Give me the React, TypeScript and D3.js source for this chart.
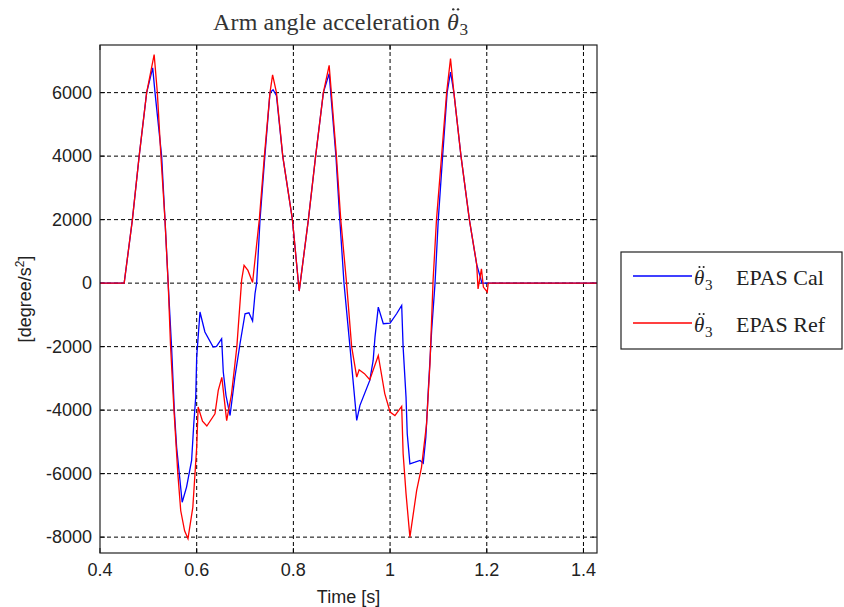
import React from "react";
import * as d3 from "d3";

const refTime = [0.4, 0.45, 0.467, 0.481, 0.4965, 0.512, 0.5186, 0.526, 0.5344, 0.541, 0.546, 0.553, 0.561, 0.567, 0.575, 0.582, 0.592, 0.6, 0.603, 0.612, 0.621, 0.6378, 0.6446, 0.652, 0.662, 0.672, 0.683, 0.693, 0.698, 0.706, 0.7156, 0.7295, 0.74, 0.7516, 0.757, 0.765, 0.778, 0.798, 0.812, 0.831, 0.846, 0.862, 0.874, 0.889, 0.898, 0.91, 0.9205, 0.931, 0.936, 0.947, 0.958, 0.9756, 0.989, 1.0, 1.01, 1.024, 1.027, 1.033, 1.041, 1.055, 1.065, 1.0755, 1.0825, 1.089, 1.096, 1.1065, 1.117, 1.125, 1.132, 1.1467, 1.164, 1.179, 1.182, 1.189, 1.193, 1.201, 1.203, 1.428];
const refValue = [0, 0, 2000, 4000, 6000, 7200, 6000, 4000, 2000, 0, -2000, -4000, -6000, -7170, -7800, -8050, -7060, -5170, -3900, -4350, -4500, -4115, -3380, -2970, -4330, -3500, -2015, 100, 560, 400, 20, 2000, 4000, 6000, 6560, 6000, 4000, 2000, -250, 2000, 4000, 6000, 6860, 4000, 2000, 0, -2000, -2960, -2730, -2850, -3040, -2280, -3480, -4060, -4170, -3880, -5370, -6630, -8000, -6530, -5800, -4430, -2540, 100, 2000, 4000, 6000, 7070, 6000, 4000, 2000, 610, -180, 450, -125, -280, 0, 0];

const calTime = [0.4, 0.45, 0.467, 0.481, 0.4965, 0.509, 0.5138, 0.5275, 0.5344, 0.541, 0.548, 0.5537, 0.5585, 0.57, 0.579, 0.5895, 0.594, 0.598, 0.6, 0.6068, 0.617, 0.634, 0.641, 0.6516, 0.655, 0.6606, 0.669, 0.679, 0.6896, 0.7, 0.708, 0.7156, 0.7206, 0.724, 0.731, 0.741, 0.7516, 0.758, 0.765, 0.778, 0.798, 0.812, 0.831, 0.846, 0.862, 0.874, 0.888, 0.896, 0.9047, 0.917, 0.931, 0.9377, 0.958, 0.965, 0.9688, 0.9756, 0.986, 1.0, 1.0135, 1.024, 1.027, 1.033, 1.0355, 1.041, 1.0515, 1.062, 1.0686, 1.074, 1.079, 1.086, 1.093, 1.0997, 1.1087, 1.118, 1.125, 1.132, 1.1467, 1.164, 1.179, 1.19, 1.428];
const calValue = [0, 0, 2000, 4000, 6000, 6780, 6000, 4000, 2000, 0, -2000, -4000, -5170, -6900, -6425, -5585, -4430, -3590, -2330, -910, -1540, -2015, -1995, -1750, -2800, -3540, -4170, -2960, -1910, -965, -935, -1195, -335, 0, 2000, 4000, 6000, 6090, 5900, 4000, 2000, -250, 2000, 4000, 6000, 6600, 4000, 2000, 0, -2000, -4325, -3850, -3065, -2435, -1700, -755, -1280, -1260, -965, -700, -2015, -3590, -4745, -5690, -5640, -5585, -5670, -4850, -3380, -1490, 0, 2000, 4000, 6000, 6650, 6000, 4000, 2000, 600, 0, 0];

const xTicks = [0.4, 0.6, 0.8, 1.0, 1.2, 1.4];
const xTickLabels = ["0.4", "0.6", "0.8", "1", "1.2", "1.4"];
const yTicks = [-8000, -6000, -4000, -2000, 0, 2000, 4000, 6000];
const yTickLabels = ["-8000", "-6000", "-4000", "-2000", "0", "2000", "4000", "6000"];
const seriesNames = ["EPAS Cal", "EPAS Ref"];
const seriesColors = ["#0000ff", "#ff0000"];

const W = 844, H = 607;
const L = 100, R = 597, T = 45, B = 553;

const sans = "'Liberation Sans', Arial, sans-serif";
const serif = "'Liberation Serif', 'Times New Roman', serif";

function Theta({ x, y, fs, color }: { x: number; y: number; fs: number; color: string }) {
  const cx = x + fs * 0.36;
  const cy = y - fs * 0.86;
  const r = Math.max(1, fs * 0.05);
  return (
    <g fill={color}>
      <text x={x} y={y} fontFamily={serif} fontSize={fs} fontStyle="italic">{"\u03B8"}</text>
      <circle cx={cx - fs * 0.1} cy={cy} r={r} />
      <circle cx={cx + fs * 0.1} cy={cy} r={r} />
      <text x={x + fs * 0.52} y={y + fs * 0.22} fontFamily={serif} fontSize={fs * 0.72}>3</text>
    </g>
  );
}

export default function App() {
  const x = d3.scaleLinear().domain([0.4, 1.428]).range([L, R]);
  const y = d3.scaleLinear().domain([-8500, 7500]).range([B, T]);
  const line = d3.line<[number, number]>().x(d => x(d[0])).y(d => y(d[1]));
  const calPts: [number, number][] = calTime.map((t, i) => [t, calValue[i]]);
  const refPts: [number, number][] = refTime.map((t, i) => [t, refValue[i]]);
  return (
    <svg width={W} height={H} style={{ position: "absolute", left: 0, top: 0, background: "#fff" }}>
      <rect x={0} y={0} width={W} height={H} fill="#fff" />
      <g stroke="#000" strokeDasharray="4,3" strokeWidth={1}>
        {xTicks.slice(1).map(t => (
          <line key={"gx" + t} x1={x(t)} x2={x(t)} y1={T} y2={B} />
        ))}
        {yTicks.map(v => (
          <line key={"gy" + v} x1={L} x2={R} y1={y(v)} y2={y(v)} />
        ))}
      </g>
      <g stroke="#000" strokeWidth={1}>
        {xTicks.map(t => (
          <g key={"tx" + t}>
            <line x1={x(t)} x2={x(t)} y1={B} y2={B - 5} />
            <line x1={x(t)} x2={x(t)} y1={T} y2={T + 5} />
          </g>
        ))}
        {yTicks.map(v => (
          <g key={"ty" + v}>
            <line x1={L} x2={L + 5} y1={y(v)} y2={y(v)} />
            <line x1={R} x2={R - 5} y1={y(v)} y2={y(v)} />
          </g>
        ))}
      </g>
      <path d={line(calPts) || ""} fill="none" stroke={seriesColors[0]} strokeWidth={1.3} />
      <path d={line(refPts) || ""} fill="none" stroke={seriesColors[1]} strokeWidth={1.3} />
      <rect x={L} y={T} width={R - L} height={B - T} fill="none" stroke="#222" strokeWidth={1.2} />
      <g fontFamily={sans} fontSize={18} fill="#222">
        {xTicks.map((t, i) => (
          <text key={"lx" + t} x={x(t)} y={B + 23} textAnchor="middle">{xTickLabels[i]}</text>
        ))}
        {yTicks.map((v, i) => (
          <text key={"ly" + v} x={L - 8} y={y(v) + 6} textAnchor="end">{yTickLabels[i]}</text>
        ))}
        <text x={(L + R) / 2} y={603} textAnchor="middle">Time [s]</text>
        <text transform={`translate(31, ${(T + B) / 2}) rotate(-90)`} textAnchor="middle">
          [degree/s<tspan fontSize={12} dy={-7}>2</tspan><tspan dy={7}>]</tspan>
        </text>
      </g>
      <text x={213} y={30} fontFamily={serif} fontSize={24} fill="#333" textLength={227} lengthAdjust="spacing">
        Arm angle acceleration
      </text>
      <Theta x={447} y={30} fs={24} color="#333" />
      <rect x={621} y={252} width={221} height={97} fill="#fff" stroke="#222" strokeWidth={1.2} />
      {seriesNames.map((n, i) => (
        <g key={n}>
          <line x1={633} x2={692} y1={276 + i * 47} y2={276 + i * 47} stroke={seriesColors[i]} strokeWidth={1.3} />
          <Theta x={694} y={285 + i * 47} fs={21} color="#222" />
          <text x={736} y={285 + i * 47} fontFamily={serif} fontSize={22} fill="#222">{n}</text>
        </g>
      ))}
    </svg>
  );
}
